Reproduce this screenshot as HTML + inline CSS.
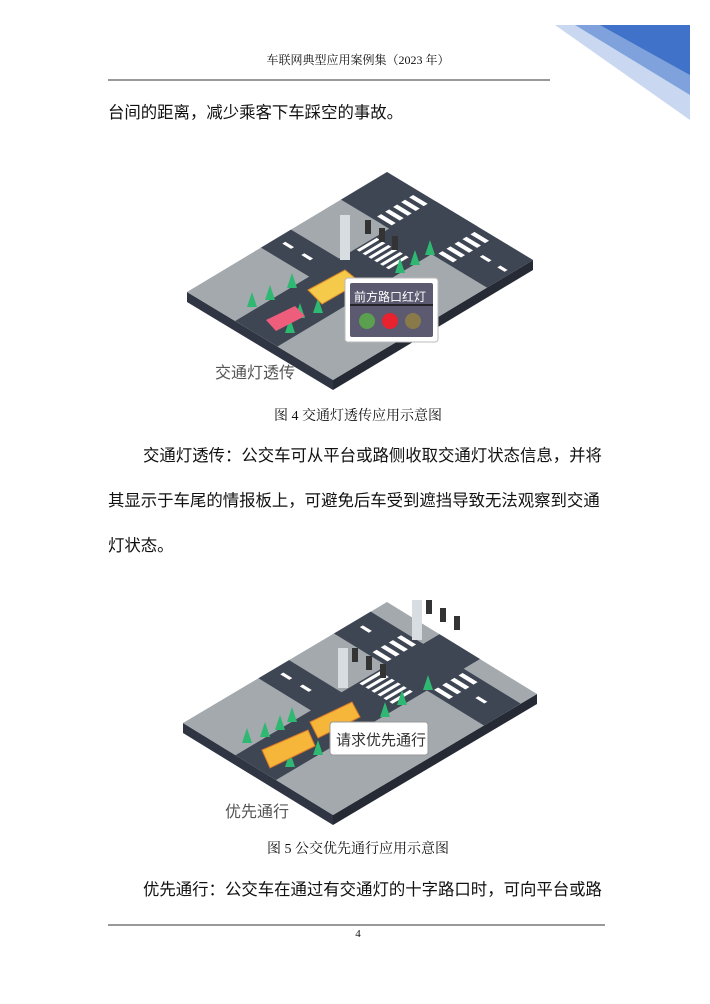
<!DOCTYPE html>
<html><head><meta charset="utf-8"><style>
body{margin:0;width:710px;height:1004px;background:#fff;position:relative;overflow:hidden;font-family:"Liberation Serif","Noto Serif CJK SC","Noto Sans CJK SC",serif;color:#111}
.t{position:absolute;white-space:nowrap}
.b{font-size:16.4px;font-family:"Liberation Sans","Noto Sans CJK SC",sans-serif;}
</style></head><body>
<svg width="710" height="1004" style="position:absolute;left:0;top:0">
<polygon points="555,25 690,25 690,120" fill="#c9d8f0"/>
<polygon points="575,25 690,25 690,95" fill="#7fa2dc"/>
<polygon points="600,25 690,25 690,75" fill="#3f72c8"/>
<line x1="108" y1="80" x2="550" y2="80" stroke="#333" stroke-width="1"/>
<line x1="108" y1="925" x2="605" y2="925" stroke="#333" stroke-width="1"/>

<!-- illustration 1 -->
<polygon points="187,292 333,380 333,390 187,302" fill="#2f3542"/>
<polygon points="333,380 533,260 533,270 333,390" fill="#252a35"/>
<g transform="matrix(200,-120,146,88,187,292)">
<rect x="0" y="0" width="1" height="1" fill="#a3a9ad"/>
<rect x="0" y="0.33" width="1" height="0.29" fill="#3e4553"/>
<rect x="0.37" y="0" width="0.15" height="0.35" fill="#3e4553"/>
<rect x="0.77" y="0" width="0.23" height="1" fill="#3e4553"/>
<g fill="#fff"><rect x="0.6" y="0.34" width="0.1" height="0.02"/><rect x="0.6" y="0.38" width="0.1" height="0.02"/><rect x="0.6" y="0.42" width="0.1" height="0.02"/><rect x="0.6" y="0.46" width="0.1" height="0.02"/><rect x="0.6" y="0.50" width="0.1" height="0.02"/><rect x="0.6" y="0.54" width="0.1" height="0.02"/>
<rect x="0.79" y="0.22" width="0.02" height="0.1"/><rect x="0.83" y="0.22" width="0.02" height="0.1"/><rect x="0.87" y="0.22" width="0.02" height="0.1"/><rect x="0.91" y="0.22" width="0.02" height="0.1"/><rect x="0.95" y="0.22" width="0.02" height="0.1"/>
<rect x="0.79" y="0.64" width="0.02" height="0.1"/><rect x="0.83" y="0.64" width="0.02" height="0.1"/><rect x="0.87" y="0.64" width="0.02" height="0.1"/><rect x="0.91" y="0.64" width="0.02" height="0.1"/><rect x="0.95" y="0.64" width="0.02" height="0.1"/>
<rect x="0.44" y="0.05" width="0.015" height="0.06"/><rect x="0.44" y="0.18" width="0.015" height="0.06"/>
<rect x="0.88" y="0.8" width="0.015" height="0.06"/><rect x="0.88" y="0.92" width="0.015" height="0.05"/></g>
</g>
<rect x="340" y="215" width="10" height="45" fill="#d8dde2"/>
<rect x="365" y="220" width="6" height="14" fill="#333"/><rect x="379" y="228" width="6" height="14" fill="#333"/><rect x="392" y="236" width="6" height="14" fill="#333"/>
<g fill="#2eb872"><polygon points="270,285 265,300 275,300"/><polygon points="252,292 247,307 257,307"/><polygon points="292,273 287,288 297,288"/><polygon points="300,303 295,318 305,318"/><polygon points="318,298 313,313 323,313"/><polygon points="290,318 285,333 295,333"/><polygon points="400,258 395,273 405,273"/><polygon points="415,250 410,265 420,265"/><polygon points="430,240 425,255 435,255"/></g>
<polygon points="308,290 345,270 360,282 322,304" fill="#f5c94a" stroke="#d98a2a"/>
<polygon points="266,320 295,306 305,316 276,331" fill="#ef5d7d"/>
<rect x="345" y="278" width="93" height="64" rx="3" fill="#fff" stroke="#bbb"/>
<rect x="350" y="283" width="83" height="54" rx="2" fill="#5b5a70"/>
<line x1="350" y1="305" x2="433" y2="305" stroke="#111" stroke-width="1.5"/>
<circle cx="367" cy="321" r="8" fill="#5aa04e"/><circle cx="390" cy="321" r="8" fill="#e8222e"/><circle cx="413" cy="321" r="8" fill="#8a7a4a"/>

<!-- illustration 2 -->
<polygon points="183,723 333,815 333,825 183,733" fill="#2f3542"/>
<polygon points="333,815 537,694 537,704 333,825" fill="#252a35"/>
<g transform="matrix(204,-121,150,92,183,723)">
<rect x="0" y="0" width="1" height="1" fill="#a3a9ad"/>
<rect x="0" y="0.35" width="1" height="0.27" fill="#3e4553"/>
<rect x="0.37" y="0" width="0.15" height="0.36" fill="#3e4553"/>
<rect x="0.74" y="0" width="0.18" height="1" fill="#3e4553"/>
<g fill="#fff"><rect x="0.6" y="0.36" width="0.1" height="0.02"/><rect x="0.6" y="0.40" width="0.1" height="0.02"/><rect x="0.6" y="0.44" width="0.1" height="0.02"/><rect x="0.6" y="0.48" width="0.1" height="0.02"/><rect x="0.6" y="0.52" width="0.1" height="0.02"/><rect x="0.6" y="0.56" width="0.1" height="0.02"/>
<rect x="0.76" y="0.23" width="0.02" height="0.1"/><rect x="0.8" y="0.23" width="0.02" height="0.1"/><rect x="0.84" y="0.23" width="0.02" height="0.1"/><rect x="0.88" y="0.23" width="0.02" height="0.1"/>
<rect x="0.76" y="0.64" width="0.02" height="0.1"/><rect x="0.8" y="0.64" width="0.02" height="0.1"/><rect x="0.84" y="0.64" width="0.02" height="0.1"/><rect x="0.88" y="0.64" width="0.02" height="0.1"/>
<rect x="0.44" y="0.05" width="0.015" height="0.06"/><rect x="0.44" y="0.18" width="0.015" height="0.06"/>
<rect x="0.83" y="0.05" width="0.015" height="0.06"/><rect x="0.83" y="0.82" width="0.015" height="0.06"/></g>
</g>
<rect x="338" y="648" width="10" height="40" fill="#d8dde2"/>
<rect x="412" y="600" width="10" height="40" fill="#d8dde2"/>
<rect x="352" y="648" width="6" height="14" fill="#333"/><rect x="366" y="656" width="6" height="14" fill="#333"/><rect x="380" y="664" width="6" height="14" fill="#333"/>
<rect x="426" y="600" width="6" height="14" fill="#333"/><rect x="440" y="608" width="6" height="14" fill="#333"/><rect x="454" y="616" width="6" height="14" fill="#333"/>
<g fill="#2eb872"><polygon points="247,728 242,743 252,743"/><polygon points="265,722 260,737 270,737"/><polygon points="280,715 275,730 285,730"/><polygon points="292,707 287,722 297,722"/><polygon points="290,752 285,767 295,767"/><polygon points="318,740 313,755 323,755"/><polygon points="385,702 380,717 390,717"/><polygon points="402,690 397,705 407,705"/><polygon points="428,675 423,690 433,690"/></g>
<polygon points="262,750 308,730 315,746 270,768" fill="#f5b63a" stroke="#d97a2a"/>
<polygon points="310,722 352,702 360,717 318,738" fill="#f5b63a" stroke="#d97a2a"/>
<rect x="330" y="722" width="98" height="33" rx="3" fill="#fff" stroke="#999"/>
</svg>

<div class="t" style="left:0;width:716px;text-align:center;top:51px;font-size:12px">车联网典型应用案例集（2023 年）</div>
<div class="t b" style="left:108px;top:99px">台间的距离，减少乘客下车踩空的事故。</div>
<div class="t" style="left:354px;top:288px;font-size:12px;color:#fff;font-family:'Liberation Sans','Noto Sans CJK SC',sans-serif">前方路口红灯</div>
<div class="t" style="left:215px;top:359px;font-size:16px;color:#555;font-family:'Liberation Sans','Noto Sans CJK SC',sans-serif">交通灯透传</div>
<div class="t" style="left:0;width:716px;text-align:center;top:405px;font-size:14px">图 4  交通灯透传应用示意图</div>
<div class="t b" style="left:143px;top:442px">交通灯透传：公交车可从平台或路侧收取交通灯状态信息，并将</div>
<div class="t b" style="left:108px;top:487px">其显示于车尾的情报板上，可避免后车受到遮挡导致无法观察到交通</div>
<div class="t b" style="left:108px;top:532px">灯状态。</div>
<div class="t" style="left:336px;top:729px;font-size:15px;color:#333;font-family:'Liberation Sans','Noto Sans CJK SC',sans-serif">请求优先通行</div>
<div class="t" style="left:225px;top:798px;font-size:16px;color:#555;font-family:'Liberation Sans','Noto Sans CJK SC',sans-serif">优先通行</div>
<div class="t" style="left:0;width:716px;text-align:center;top:838px;font-size:14px">图 5  公交优先通行应用示意图</div>
<div class="t b" style="left:143px;top:876px">优先通行：公交车在通过有交通灯的十字路口时，可向平台或路</div>
<div class="t" style="left:0;width:716px;text-align:center;top:928px;font-size:11px">4</div>
</body></html>
